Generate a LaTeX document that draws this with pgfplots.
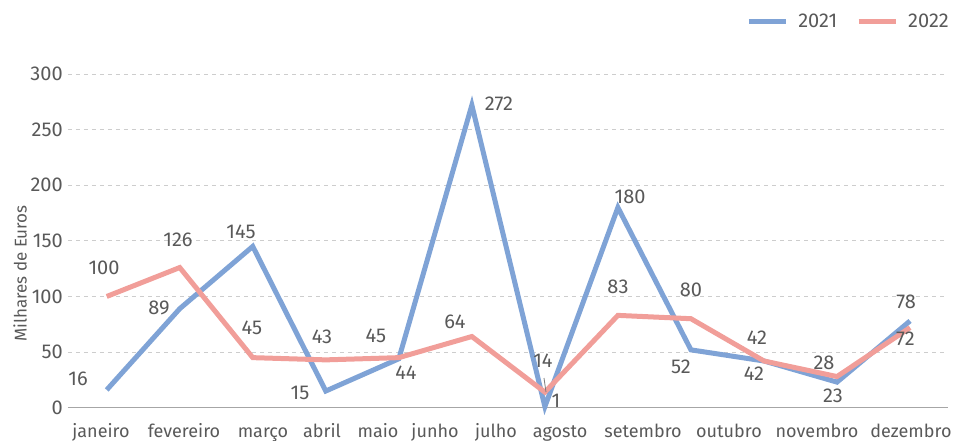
\documentclass[border=0pt]{standalone}
\usepackage{pgfplots}
\pgfplotsset{compat=1.18}
\usepackage{fontspec}
\setmainfont{Fira Sans}
\definecolor{blueA}{RGB}{127,163,214}
\definecolor{pinkA}{RGB}{241,158,153}
\definecolor{txt}{RGB}{89,89,89}
\definecolor{gridc}{RGB}{205,205,205}
\definecolor{axc}{RGB}{166,166,166}
\tikzset{lab/.style={font=\fontsize{20bp}{24bp}\selectfont, text=txt, inner sep=0pt, anchor=center}}
\begin{document}
\fontsize{18bp}{21bp}\selectfont
\begin{tikzpicture}
\begin{axis}[
 name=ax, at={(0,0)}, anchor=south west,
 scale only axis, width=880bp, height=333.7bp,
 xmin=-0.53, xmax=11.52, ymin=0, ymax=300,
 axis lines*=left,
 x axis line style={-, draw=axc, line width=1.5bp},
 y axis line style={draw=none},
 ytick={0,50,...,300},
 ymajorgrids,
 grid style={gridc, line width=0.8bp, dash pattern=on 4bp off 4bp},
 major tick length=0pt,
 xtick={-0.078,1.058,2.140,2.948,3.715,4.496,5.331,6.208,7.344,8.521,9.726,11.013},
 xticklabels={janeiro,fevereiro,março,abril,maio,junho,julho,agosto,setembro,outubro,novembro,dezembro},
 xticklabel style={anchor=base, yshift=-29.5bp, font=\fontsize{18bp}{21bp}\selectfont},
 yticklabel style={font=\fontsize{20bp}{24bp}\selectfont, xshift=1bp},
 tick label style={text=txt},
 /pgf/number format/assume math mode=true,
 ylabel={Milhares de Euros},
 ylabel style={at={(axis description cs:-0.0545,0.402)}, anchor=center, font=\fontsize{17bp}{20bp}\selectfont, text=txt},
 clip=false,
 legend columns=2,
 legend style={draw=none, fill=none, at={(axis description cs:1,1)}, anchor=east, xshift=6bp, yshift=52bp,
   font=\fontsize{20bp}{24bp}\selectfont, text=txt,
   /tikz/every even column/.append style={column sep=17bp}},
 legend image code/.code={\draw[#1, line width=5bp] (0bp,0bp) -- (37bp,0bp);},
]
\addplot[blueA, line width=5bp] coordinates {
 (0,16) (1,89) (2,145) (3,15) (4,44) (5,272) (6,1) (7,180) (8,52) (9,42) (10,23) (11,78)};
\addlegendentry{\hspace{8bp}2021}
\addplot[pinkA, line width=5bp] coordinates {
 (0,100) (1,126) (2,45) (3,43) (4,45) (5,64) (6,14) (7,83) (8,80) (9,42) (10,28) (11,72)};
\addlegendentry{\hspace{8bp}2022}
\draw[txt!80, line width=0.8bp] (axis cs:5.988,26.7) -- (axis cs:6.015,14.1);
% 2021 labels
\node[lab] at (axis cs:-0.393,25.8) {16};
\node[lab] at (axis cs:0.716,89.7) {89};
\node[lab] at (axis cs:1.839,158.0) {145};
\node[lab] at (axis cs:2.647,13.2) {15};
\node[lab] at (axis cs:4.098,31.2) {44};
\node[lab] at (axis cs:5.371,273.1) {272};
\node[lab] at (axis cs:6.152,6.0) {1};
\node[lab] at (axis cs:7.166,189.5) {180};
\node[lab] at (axis cs:7.864,36.6) {52};
\node[lab] at (axis cs:8.864,30.3) {42};
\node[lab] at (axis cs:9.946,10.5) {23};
\node[lab] at (axis cs:10.945,95.1) {78};
% 2022 labels
\node[lab] at (axis cs:-0.037,125.6) {100};
\node[lab] at (axis cs:0.976,150.5) {126};
\node[lab] at (axis cs:1.989,71.7) {45};
\node[lab] at (axis cs:2.948,63.6) {43};
\node[lab] at (axis cs:3.687,64.5) {45};
\node[lab] at (axis cs:4.769,77.1) {64};
\node[lab] at (axis cs:5.974,42.0) {14};
\node[lab] at (axis cs:7.001,108.5) {83};
\node[lab] at (axis cs:8.001,105.8) {80};
\node[lab] at (axis cs:8.905,62.7) {42};
\node[lab] at (axis cs:9.822,40.2) {28};
\node[lab] at (axis cs:10.937,61.8) {72};
\end{axis}
\pgfresetboundingbox
\path[use as bounding box] (-68bp,-33.3bp) rectangle (887bp,407.7bp);
\end{tikzpicture}
\end{document}
